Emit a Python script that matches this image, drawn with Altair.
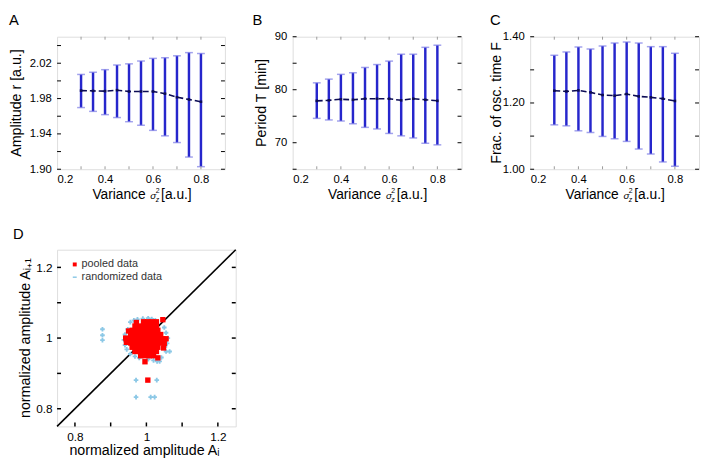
import altair as alt
import pandas as pd

FONT = "Liberation Sans"
BAR = "#2626cc"
CAP = "#7a7ae6"
LINE = "#0c0c55"
RED = "#ff0000"
SKY = "#8cc8e6"

# ---------------- data ----------------
variance = [0.3, 0.35, 0.4, 0.45, 0.5, 0.55, 0.6, 0.65, 0.7, 0.75, 0.8]

amp_mean = [1.989, 1.9887, 1.9884, 1.9895, 1.988, 1.988, 1.988, 1.9855, 1.9815, 1.979, 1.9764]
amp_hi = [2.0073, 2.0098, 2.0127, 2.018, 2.0193, 2.0225, 2.0255, 2.0262, 2.0284, 2.032, 2.031]
amp_lo = [1.9698, 1.9655, 1.9618, 1.9585, 1.9538, 1.9498, 1.944, 1.9378, 1.9302, 1.9138, 1.9029]

per_mean = [77.9, 78.0, 78.2, 78.1, 78.3, 78.3, 78.3, 78.0, 78.3, 78.1, 77.9]
per_hi = [81.3, 82.0, 82.9, 83.2, 84.2, 84.75, 85.4, 86.7, 86.7, 88.0, 88.4]
per_lo = [74.6, 74.3, 74.1, 73.6, 72.9, 72.6, 71.75, 71.3, 70.9, 69.9, 69.6]

frac_mean = [1.237, 1.235, 1.238, 1.232, 1.224, 1.222, 1.227, 1.220, 1.217, 1.213, 1.206]
frac_hi = [1.344, 1.354, 1.369, 1.363, 1.372, 1.381, 1.384, 1.381, 1.370, 1.370, 1.350]
frac_lo = [1.134, 1.131, 1.116, 1.111, 1.099, 1.092, 1.084, 1.061, 1.046, 1.022, 1.009]

panel_letters = ["A", "B", "C", "D"]
y_titles = ["Amplitude r [a.u.]", "Period T [min]", "Frac. of osc. time F"]
x_title_parts = ["Variance", "σ", "2", "z", "[a.u.]"]
x_tick_labels = [0.2, 0.4, 0.6, 0.8]
x_minor_ticks = [0.3, 0.4, 0.5, 0.6, 0.7, 0.8]

amp_major = [1.90, 1.94, 1.98, 2.02]
amp_minor = [1.90, 1.92, 1.94, 1.96, 1.98, 2.00, 2.02, 2.04]
per_major = [70, 80, 90]
per_minor = [65, 70, 75, 80, 85, 90]
frac_major = [1.0, 1.2, 1.4]
frac_minor = [1.0, 1.1, 1.2, 1.3, 1.4]

# panel D: pooled (red) and randomized (light blue) points
red_x = [0.992, 1.004, 1.016,
         0.968, 0.980, 0.992, 1.004, 1.016, 1.028,
         0.960, 0.972, 0.984, 0.996, 1.008, 1.020, 1.032,
         0.956, 0.968, 0.980, 0.992, 1.004, 1.016, 1.028, 1.040,
         0.952, 0.964, 0.976, 0.988, 1.000, 1.012, 1.024, 1.036, 1.046,
         0.956, 0.968, 0.980, 0.992, 1.004, 1.016, 1.028, 1.040,
         0.960, 0.972, 0.984, 0.996, 1.008, 1.020, 1.032,
         0.968, 0.980, 0.992, 1.004, 1.016, 1.028,
         0.984, 0.996, 1.008, 1.020,
         0.942, 0.944, 1.046, 1.055, 1.048, 0.996, 1.032, 1.004, 1.028, 0.972, 0.950, 1.050]
red_y = [1.046, 1.046, 1.046,
         1.034, 1.034, 1.034, 1.034, 1.034, 1.034,
         1.022, 1.022, 1.022, 1.022, 1.022, 1.022, 1.022,
         1.010, 1.010, 1.010, 1.010, 1.010, 1.010, 1.010, 1.010,
         0.998, 0.998, 0.998, 0.998, 0.998, 0.998, 0.998, 0.998, 0.998,
         0.986, 0.986, 0.986, 0.986, 0.986, 0.986, 0.986, 0.986,
         0.974, 0.974, 0.974, 0.974, 0.974, 0.974, 0.974,
         0.962, 0.962, 0.962, 0.962, 0.962, 0.962,
         0.950, 0.950, 0.950, 0.950,
         1.000, 0.988, 1.052, 0.998, 0.972, 0.933, 0.944, 0.881, 1.046, 1.044, 1.020, 0.985]
blue_x = [0.955, 0.965, 0.975, 0.990, 1.005, 1.015, 1.025,
          0.940, 0.937, 0.940, 0.945, 0.948,
          0.955, 0.968, 0.980, 1.005, 1.020, 1.030, 1.037, 1.042,
          1.050, 1.055, 1.060, 1.058, 1.055, 1.065, 1.052,
          0.877, 0.877, 0.877, 0.971, 1.029, 0.971, 1.012, 1.023]
blue_y = [1.045, 1.050, 1.053, 1.055, 1.056, 1.054, 1.050,
          1.010, 0.995, 0.980, 0.968, 1.025,
          0.955, 0.948, 0.944, 0.940, 0.937, 0.934, 0.934, 0.945,
          1.030, 1.015, 1.000, 0.985, 0.962, 0.962, 0.975,
          1.025, 1.008, 0.994, 0.881, 0.881, 0.833, 0.833, 0.833]
series_names = ["pooled data", "randomized data"]
d_ticks = [0.8, 0.9, 1.0, 1.1, 1.2]
d_labels = [0.8, 1.0, 1.2]
diag = [0.75, 1.25]
d_x_title = "normalized amplitude Aᵢ"
d_y_title = "normalized amplitude Aᵢ₊₁"

H = 135


def txt(s, x, y, size, angle=0, align="left", baseline="alphabetic", italic=False, color="black"):
    props = dict(font=FONT, fontSize=size, align=align, baseline=baseline, color=color)
    if angle:
        props["angle"] = angle
    if italic:
        props["fontStyle"] = "italic"
    return alt.Chart(pd.DataFrame({"t": [s]})).mark_text(**props).encode(
        text="t:N", x=alt.value(x), y=alt.value(y))


def var_panel(letter, ytitle, mean, lo, hi, ydom, ymajor, yminor, yfmt, w, title_dx, letter_dx):
    df = pd.DataFrame({"x": variance, "m": mean, "lo": lo, "hi": hi})
    xs = alt.Scale(domain=[0.2, 0.9], nice=False, zero=False)
    ys = alt.Scale(domain=ydom, nice=False, zero=False)
    xax = alt.Axis(values=x_tick_labels, format=".1f", ticks=False, domain=False, grid=False,
                   labelFont=FONT, labelFontSize=11.5, labelPadding=5, labelColor="black", title=None)
    yax = alt.Axis(values=ymajor, format=yfmt, ticks=False, domain=False, grid=False,
                   labelFont=FONT, labelFontSize=11.5, labelPadding=6, labelColor="black", title=None)

    def X(f):
        return alt.X(f, type="quantitative", scale=xs, axis=xax)

    def Y(f):
        return alt.Y(f, type="quantitative", scale=ys, axis=yax)

    base = alt.Chart(df)
    bars = base.mark_rule(color=BAR, strokeWidth=2.5).encode(x=X("x"), y=Y("lo"), y2="hi")
    cap_lo = base.mark_tick(orient="horizontal", size=8, thickness=1.5, color=CAP).encode(x=X("x"), y=Y("lo"))
    cap_hi = base.mark_tick(orient="horizontal", size=8, thickness=1.5, color=CAP).encode(x=X("x"), y=Y("hi"))
    line = base.mark_line(color=LINE, strokeDash=[6, 3], strokeWidth=1.6).encode(x=X("x"), y=Y("m"))
    dots = base.mark_square(size=7, color=LINE, opacity=1).encode(x=X("x"), y=Y("m"))

    tdf = alt.Chart(pd.DataFrame({"v": yminor}))
    lt = tdf.mark_rule(color="black", strokeWidth=1).encode(y=Y("v"), x=alt.value(0), x2=alt.value(4))
    rt = tdf.mark_rule(color="black", strokeWidth=1).encode(y=Y("v"), x=alt.value(w - 4), x2=alt.value(w))
    xdf = alt.Chart(pd.DataFrame({"v": x_minor_ticks}))
    bt = xdf.mark_rule(color="#999999", strokeWidth=1).encode(x=X("v"), y=alt.value(H - 3), y2=alt.value(H))
    tt = xdf.mark_rule(color="#999999", strokeWidth=1).encode(x=X("v"), y=alt.value(0), y2=alt.value(3))

    texts = [
        txt(letter, letter_dx, -24, 15, baseline="top"),
        txt(ytitle, title_dx, H / 2, 14.5, angle=270, align="center", baseline="middle"),
        txt(x_title_parts[0], 36, H + 30, 14),
        txt(x_title_parts[1], 95, H + 30, 10, italic=True),
        txt(x_title_parts[2], 100.5, H + 24, 7),
        txt(x_title_parts[3], 100.5, H + 33, 7, italic=True),
        txt(x_title_parts[4], 106, H + 30, 14),
    ]
    return alt.layer(bars, cap_lo, cap_hi, line, dots, lt, rt, bt, tt, *texts).properties(width=w, height=H)


pA = var_panel(panel_letters[0], y_titles[0], amp_mean, amp_lo, amp_hi, [1.90, 2.05],
               amp_major, amp_minor, ".2f", 171, -41, -49)
pB = var_panel(panel_letters[1], y_titles[1], per_mean, per_lo, per_hi, [65, 90],
               per_major, per_minor, "d", 172, -31, -41)
pC = var_panel(panel_letters[2], y_titles[2], frac_mean, frac_lo, frac_hi, [1.0, 1.4],
               frac_major, frac_minor, ".2f", 172, -33.5, -41)

# ---------------- panel D ----------------
DW, DH = 182, 180
dxs = alt.Scale(domain=[0.75, 1.25], nice=False, zero=False)
dys = alt.Scale(domain=[0.75, 1.25], nice=False, zero=False)
dxax = alt.Axis(values=d_labels, format="~g", ticks=False, domain=False, grid=False,
                labelFont=FONT, labelFontSize=12, labelPadding=5, labelColor="black", title=None)
dyax = alt.Axis(values=d_labels, format="~g", ticks=False, domain=False, grid=False,
                labelFont=FONT, labelFontSize=12, labelPadding=5, labelColor="black", title=None)


def DX(f):
    return alt.X(f, type="quantitative", scale=dxs, axis=dxax)


def DY(f):
    return alt.Y(f, type="quantitative", scale=dys, axis=dyax)


pts = pd.DataFrame({
    "a": blue_x + red_x,
    "b": blue_y + red_y,
    "s": [series_names[1]] * len(blue_x) + [series_names[0]] * len(red_x),
})
diag_line = alt.Chart(pd.DataFrame({"a": diag, "b": diag})).mark_line(color="black", strokeWidth=1.6).encode(
    x=DX("a"), y=DY("b"))
scatter = alt.Chart(pts).mark_point(filled=True, opacity=1).encode(
    x=DX("a"), y=DY("b"),
    color=alt.Color("s:N", scale=alt.Scale(domain=series_names, range=[RED, SKY]), legend=None),
    shape=alt.Shape("s:N", scale=alt.Scale(domain=series_names, range=["square", "cross"]), legend=None),
    size=alt.Size("s:N", scale=alt.Scale(domain=series_names, range=[30, 22]), legend=None),
)
dt = alt.Chart(pd.DataFrame({"v": d_ticks}))
d_lt = dt.mark_rule(color="black", strokeWidth=1.5).encode(y=DY("v"), x=alt.value(0), x2=alt.value(4))
d_rt = dt.mark_rule(color="black", strokeWidth=1.5).encode(y=DY("v"), x=alt.value(DW - 4), x2=alt.value(DW))
d_bt = dt.mark_rule(color="black", strokeWidth=1.5).encode(x=DX("v"), y=alt.value(DH - 4), y2=alt.value(DH))

# manual legend (inside the plot, top-left)
leg_red = alt.Chart(pd.DataFrame({"s": [series_names[0]]})).mark_square(size=16, color=RED, opacity=1).encode(
    x=alt.value(18), y=alt.value(15))
leg_blue = alt.Chart(pd.DataFrame({"s": [series_names[1]]})).mark_rule(color=SKY, strokeWidth=1.5).encode(
    x=alt.value(16), x2=alt.value(20), y=alt.value(28))
leg_t1 = txt(series_names[0], 25, 15, 11, baseline="middle", color="#333333")
leg_t2 = txt(series_names[1], 25, 28, 11, baseline="middle", color="#333333")

pD = alt.layer(
    diag_line, scatter, d_lt, d_rt, d_bt, leg_red, leg_blue, leg_t1, leg_t2,
    txt(panel_letters[3], -45, -23, 15, baseline="top"),
    txt(d_y_title, -32, DH / 2, 14.5, angle=270, align="center", baseline="middle"),
    txt(d_x_title, DW / 2 - 2, DH + 29, 14.5, align="center"),
).properties(width=DW, height=DH)

top = alt.hconcat(pA, pB, pC, spacing=26)
chart = alt.vconcat(top, pD, spacing=23).properties(padding=0)
chart = chart.configure_view(stroke="black", strokeWidth=1.5).configure(font=FONT)

chart.save("out.html", embed_options={"renderer": "svg", "actions": False})
